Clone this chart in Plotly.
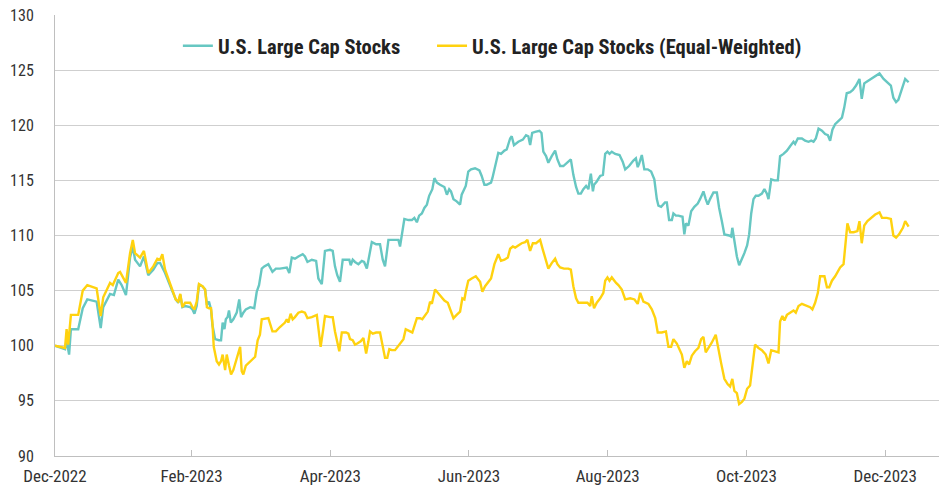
import pandas as pd
import plotly.graph_objects as go

# ---- data ----
start_date = "2022-12-30"

# days after start_date, index value (start = 100)
large_cap_days = [0.0, 4.4, 5.1, 6.2, 7.0, 10.2, 12.2, 14.2, 18.3, 20.1, 21.2, 24.2, 25.9, 27.8, 29.3, 31.2, 33.0, 34.2, 35.2, 37.4, 39.1, 41.0, 43.2, 45.0, 46.2, 48.4, 51.3, 53.1, 54.2, 55.1, 56.0, 57.2, 59.4, 60.4, 61.3, 62.3, 63.3, 64.8, 66.0, 66.8, 67.7, 68.6, 69.2, 70.4, 72.1, 73.0, 73.7, 74.5, 75.1, 75.9, 76.5, 77.3, 78.4, 79.9, 81.0, 81.8, 82.8, 83.9, 85.8, 87.6, 88.7, 89.7, 90.9, 92.0, 93.8, 95.6, 97.1, 98.9, 101.9, 103.0, 104.1, 105.5, 107.0, 108.9, 109.9, 111.0, 112.9, 114.8, 115.8, 117.3, 118.7, 120.9, 122.1, 123.1, 124.1, 125.3, 126.5, 128.3, 129.4, 130.0, 130.9, 131.9, 133.4, 134.9, 135.9, 137.1, 138.2, 139.3, 141.2, 142.9, 144.1, 145.1, 146.6, 148.1, 149.5, 151.0, 151.7, 152.7, 153.6, 155.4, 156.9, 158.0, 159.1, 160.1, 161.3, 162.4, 163.5, 164.5, 165.3, 165.9, 166.8, 167.9, 169.3, 171.2, 172.3, 173.3, 174.1, 175.2, 176.6, 178.1, 178.8, 179.6, 180.6, 181.7, 182.9, 184.7, 186.6, 187.6, 188.8, 189.8, 191.7, 192.3, 193.5, 194.9, 196.1, 197.6, 198.6, 200.1, 200.8, 201.8, 203.7, 205.7, 207.1, 208.1, 208.9, 209.8, 211.1, 213.0, 213.9, 214.7, 215.9, 216.9, 218.4, 219.9, 220.9, 222.1, 223.5, 224.7, 225.7, 226.8, 227.9, 229.1, 230.1, 231.2, 232.3, 233.5, 234.5, 235.6, 236.5, 237.0, 238.2, 239.7, 240.9, 241.9, 242.9, 243.8, 244.8, 246.3, 248.2, 249.6, 250.7, 252.4, 254.3, 255.4, 256.2, 256.8, 258.0, 259.1, 260.6, 262.1, 263.5, 264.6, 265.3, 266.5, 268.2, 269.0, 270.0, 271.2, 271.9, 273.0, 274.1, 275.9, 276.7, 277.4, 278.5, 279.7, 281.1, 282.6, 283.6, 285.1, 286.1, 287.0, 288.0, 289.5, 291.0, 292.0, 293.2, 294.3, 296.4, 297.3, 297.8, 298.7, 299.8, 300.8, 302.0, 303.1, 304.3, 305.2, 306.1, 307.1, 308.1, 309.3, 310.8, 311.9, 313.0, 313.7, 314.9, 316.3, 317.8, 318.8, 320.3, 321.8, 323.2, 324.7, 325.4, 326.6, 328.4, 329.8, 331.3, 332.5, 333.5, 334.5, 335.7, 337.2, 338.6, 339.8, 340.8, 341.8, 343.0, 344.5, 346.0, 347.0, 348.1, 349.6, 350.8, 352.2, 353.7, 354.7, 355.8, 357.2, 358.7, 360.6, 362.5, 364.3, 365.7, 367.5, 368.6, 369.8, 370.8, 372.3, 373.8, 375.3]
large_cap_values = [100.0, 99.7, 100.5, 99.2, 101.5, 101.5, 103.4, 104.2, 104.0, 101.6, 103.5, 104.7, 104.6, 106.0, 105.5, 104.6, 108.0, 109.0, 107.8, 107.2, 108.1, 106.4, 106.9, 107.5, 107.5, 106.6, 105.1, 104.2, 103.9, 104.6, 103.5, 103.6, 103.5, 103.3, 102.9, 103.6, 105.5, 105.4, 105.1, 103.7, 104.0, 103.3, 101.9, 100.6, 100.5, 100.5, 102.1, 101.5, 102.4, 102.6, 103.2, 102.1, 102.4, 103.0, 104.2, 102.6, 103.0, 103.3, 103.5, 103.4, 104.9, 105.5, 107.0, 107.2, 107.4, 106.7, 107.0, 107.0, 107.1, 106.6, 108.0, 107.9, 108.1, 108.3, 108.1, 107.6, 107.8, 107.7, 106.1, 105.6, 108.6, 108.7, 108.6, 107.2, 106.4, 105.8, 107.8, 107.8, 107.8, 107.3, 107.8, 107.6, 107.4, 107.7, 107.6, 107.0, 108.4, 109.4, 109.2, 109.2, 107.8, 107.2, 109.6, 109.6, 109.6, 109.6, 109.0, 110.2, 111.5, 111.4, 111.4, 111.6, 111.2, 111.8, 112.0, 112.5, 112.8, 113.6, 113.9, 114.2, 115.2, 114.8, 114.6, 114.4, 113.7, 114.2, 114.0, 113.3, 113.1, 112.8, 113.7, 114.1, 114.5, 115.8, 116.0, 116.1, 115.9, 115.4, 114.6, 114.6, 114.8, 115.2, 116.3, 117.5, 117.4, 117.7, 117.8, 118.8, 119.0, 118.2, 118.5, 118.7, 119.1, 119.0, 118.2, 119.3, 119.4, 119.5, 119.3, 117.6, 117.2, 116.6, 117.2, 117.7, 116.9, 116.3, 116.3, 116.5, 116.7, 116.9, 115.5, 114.4, 113.8, 113.8, 114.2, 114.5, 114.2, 115.6, 114.0, 114.6, 114.9, 115.4, 115.5, 117.4, 117.6, 117.4, 117.6, 117.4, 117.3, 116.7, 116.0, 116.3, 116.8, 117.0, 116.2, 116.5, 117.3, 116.0, 116.0, 115.8, 115.1, 113.3, 112.7, 112.6, 113.0, 113.0, 111.4, 111.4, 112.0, 111.8, 111.8, 111.7, 110.1, 111.1, 110.9, 112.2, 112.6, 112.9, 113.3, 114.0, 113.3, 112.8, 113.3, 113.9, 113.9, 112.5, 111.3, 110.1, 110.0, 109.9, 110.7, 109.5, 108.1, 107.3, 107.8, 108.4, 109.1, 110.1, 112.0, 113.3, 113.6, 113.6, 113.8, 114.2, 113.8, 113.3, 115.1, 115.0, 115.0, 117.2, 117.4, 117.7, 118.1, 118.5, 118.3, 118.8, 118.8, 118.6, 118.5, 118.6, 118.5, 118.8, 119.7, 119.5, 119.2, 119.1, 118.6, 119.6, 120.1, 120.4, 120.7, 121.6, 122.9, 123.0, 123.2, 123.6, 124.2, 122.4, 123.8, 124.0, 124.2, 124.5, 124.7, 124.2, 123.9, 123.6, 122.5, 122.1, 122.3, 123.2, 124.2, 123.9]

equal_weight_days = [0.0, 4.4, 5.1, 5.8, 7.0, 10.2, 12.2, 14.2, 18.3, 20.1, 21.2, 24.2, 25.4, 27.8, 28.6, 31.2, 33.0, 34.2, 35.2, 37.4, 39.1, 41.0, 43.2, 45.0, 46.2, 47.2, 48.4, 49.8, 51.3, 53.1, 54.2, 55.1, 56.0, 57.2, 59.4, 60.4, 61.3, 62.3, 63.3, 64.8, 66.0, 66.8, 67.7, 68.6, 69.2, 69.8, 71.1, 72.1, 73.0, 73.7, 74.8, 75.5, 76.5, 77.4, 78.4, 79.5, 80.6, 81.4, 82.1, 82.8, 83.9, 85.8, 88.0, 89.1, 90.1, 90.9, 93.8, 95.6, 97.1, 98.9, 101.1, 101.9, 102.6, 103.6, 104.5, 105.5, 107.0, 108.5, 109.9, 111.0, 112.9, 115.1, 115.8, 116.8, 118.0, 118.7, 120.9, 122.1, 123.1, 123.9, 125.0, 126.1, 128.0, 129.0, 129.7, 130.9, 131.9, 132.9, 134.4, 135.6, 136.8, 137.8, 138.5, 139.7, 141.2, 142.9, 144.1, 145.1, 146.1, 147.0, 148.1, 149.5, 153.2, 154.2, 156.1, 157.1, 159.1, 160.5, 161.5, 162.7, 163.9, 164.9, 165.7, 167.1, 168.6, 170.1, 171.2, 172.7, 173.7, 175.2, 176.6, 178.1, 179.1, 180.0, 180.6, 181.7, 183.2, 185.0, 186.9, 187.9, 189.1, 190.5, 191.7, 193.2, 194.9, 196.1, 197.6, 199.1, 200.1, 201.3, 202.3, 203.7, 205.2, 206.7, 207.7, 208.9, 210.1, 211.5, 213.3, 214.5, 215.5, 216.9, 218.4, 219.9, 220.9, 222.1, 223.8, 225.7, 226.8, 227.9, 229.1, 230.1, 232.3, 234.1, 235.3, 236.0, 237.0, 238.2, 239.7, 241.1, 241.9, 242.9, 243.8, 244.8, 246.7, 247.7, 249.2, 250.7, 252.9, 254.8, 256.2, 257.3, 258.7, 260.9, 262.4, 263.9, 265.0, 266.8, 268.6, 269.7, 270.9, 271.9, 273.4, 274.8, 275.6, 276.7, 277.8, 278.8, 280.0, 281.4, 282.9, 284.1, 285.1, 286.1, 287.3, 288.8, 290.5, 291.7, 292.9, 294.3, 295.8, 296.8, 297.8, 298.7, 299.8, 300.8, 302.0, 303.1, 304.3, 305.6, 306.6, 307.8, 309.3, 310.8, 312.5, 313.7, 314.9, 316.6, 318.1, 318.8, 319.8, 320.7, 321.8, 323.2, 324.7, 325.7, 326.9, 328.4, 329.5, 330.6, 332.0, 333.0, 334.2, 335.4, 336.4, 338.3, 339.4, 340.4, 341.6, 343.0, 345.2, 346.7, 347.4, 348.4, 349.6, 351.1, 352.8, 353.7, 354.7, 355.8, 357.2, 359.1, 360.6, 362.5, 363.6, 365.7, 367.5, 368.6, 369.8, 371.1, 372.8, 373.8, 375.3]
equal_weight_values = [100.0, 99.8, 101.5, 100.1, 102.8, 102.8, 105.0, 105.5, 105.2, 102.7, 104.4, 105.7, 105.5, 106.6, 106.7, 105.7, 108.4, 109.6, 108.4, 108.0, 108.6, 106.6, 107.2, 107.9, 107.8, 108.3, 106.9, 106.1, 105.2, 104.2, 104.0, 104.7, 103.5, 103.9, 103.9, 103.5, 103.3, 104.0, 105.6, 105.4, 105.1, 103.5, 103.4, 103.4, 102.1, 99.9, 98.6, 98.3, 98.6, 99.2, 97.8, 99.2, 98.2, 97.4, 97.8, 98.5, 99.2, 99.9, 97.7, 97.4, 98.2, 98.6, 99.0, 100.5, 101.0, 102.4, 102.5, 101.3, 101.3, 101.7, 102.1, 102.4, 102.1, 102.9, 102.4, 102.6, 103.0, 103.1, 103.0, 102.5, 102.6, 102.8, 101.5, 99.9, 101.6, 102.7, 102.6, 102.6, 101.3, 100.5, 99.5, 101.2, 101.2, 101.1, 100.6, 100.5, 100.1, 100.2, 100.4, 100.7, 99.3, 100.4, 101.3, 101.1, 101.2, 101.2, 100.1, 98.9, 98.9, 99.7, 99.6, 99.6, 100.6, 101.5, 101.3, 101.2, 102.5, 102.5, 102.4, 102.8, 103.1, 104.0, 103.8, 105.1, 104.7, 104.4, 104.1, 103.9, 103.4, 102.5, 102.8, 103.1, 104.3, 104.2, 104.9, 105.9, 106.1, 106.3, 105.8, 104.9, 105.4, 105.8, 106.1, 107.4, 108.3, 107.7, 107.8, 108.0, 108.8, 109.0, 108.9, 109.1, 109.3, 109.4, 109.6, 108.6, 109.3, 109.3, 109.6, 108.7, 108.0, 107.0, 107.5, 107.9, 107.4, 107.1, 107.0, 107.0, 106.9, 105.4, 104.3, 103.9, 103.9, 103.9, 103.6, 104.5, 103.4, 103.9, 104.3, 104.8, 105.9, 106.2, 105.9, 106.2, 105.7, 105.5, 105.1, 104.2, 104.3, 104.2, 103.8, 104.8, 104.0, 103.8, 103.3, 102.5, 101.2, 101.2, 101.3, 99.9, 99.9, 100.6, 100.2, 99.6, 99.2, 98.0, 98.6, 98.3, 99.1, 99.5, 99.8, 100.6, 100.8, 99.4, 99.8, 100.3, 101.0, 99.6, 98.4, 97.0, 96.5, 96.3, 97.0, 95.9, 95.7, 94.7, 94.9, 95.2, 96.1, 96.4, 98.1, 100.1, 99.8, 99.6, 99.2, 98.4, 99.6, 99.5, 99.4, 102.2, 102.7, 102.3, 102.8, 103.0, 103.2, 103.0, 103.6, 103.8, 103.7, 103.6, 103.5, 103.3, 103.9, 104.8, 106.3, 106.3, 105.3, 105.3, 105.9, 106.3, 107.1, 107.4, 109.0, 111.1, 110.3, 110.3, 110.4, 111.3, 109.3, 110.9, 111.3, 111.6, 111.9, 112.1, 111.6, 111.6, 111.5, 110.0, 109.8, 110.1, 110.7, 111.3, 110.8]

series_names = ["U.S. Large Cap Stocks", "U.S. Large Cap Stocks (Equal-Weighted)"]
series_colors = ["#67C7C2", "#FFD20F"]

tick_dates = ["2022-12-30", "2023-02-28", "2023-04-30", "2023-06-30", "2023-08-30", "2023-10-30", "2023-12-30"]
tick_labels = ["Dec-2022", "Feb-2023", "Apr-2023", "Jun-2023", "Aug-2023", "Oct-2023", "Dec-2023"]
y_ticks = [90, 95, 100, 105, 110, 115, 120, 125, 130]
x_range = ["2022-12-30", "2024-01-22 16:00"]

# ---- figure ----
base = pd.Timestamp(start_date)
def to_dates(days):
    return base + pd.to_timedelta(pd.Series(days), unit="D")

FONT = "Liberation Sans Narrow, Arial Narrow, Roboto Condensed, Liberation Sans, Arial, sans-serif"

fig = go.Figure()
for days, vals, name, color, leg in [
    (large_cap_days, large_cap_values, series_names[0], series_colors[0], "legend"),
    (equal_weight_days, equal_weight_values, series_names[1], series_colors[1], "legend2"),
]:
    fig.add_trace(go.Scatter(
        x=to_dates(days), y=vals, name=name, mode="lines",
        line=dict(color=color, width=2.4), legend=leg,
    ))

legend_style = dict(
    orientation="h", y=0.93, yanchor="middle", xanchor="left",
    font=dict(family=FONT, size=20.5, color="#222222", weight="bold"),
    bgcolor="rgba(0,0,0,0)", itemwidth=30,
)

fig.update_layout(
    width=939, height=491, autosize=False,
    margin=dict(l=55, r=0, t=15, b=35, autoexpand=False),
    paper_bgcolor="white", plot_bgcolor="white",
    font=dict(family=FONT, size=16, color="#333333"),
    showlegend=True,
    legend=dict(x=0.139, **legend_style),
    legend2=dict(x=0.4265, **legend_style),
)
fig.update_xaxes(
    type="date", range=x_range, automargin=False,
    tickvals=tick_dates, ticktext=tick_labels, tickfont=dict(size=17),
    showgrid=False, showline=True, linecolor="#bfbfbf", linewidth=1,
    ticks="inside", ticklen=6, tickcolor="#bfbfbf", tickwidth=1,
    ticklabelstandoff=5, zeroline=False,
)
fig.update_yaxes(
    range=[90, 130], tickvals=y_ticks, automargin=False, tickfont=dict(size=16),
    showgrid=True, gridcolor="#cfcfcf", gridwidth=1,
    showline=True, linecolor="#bfbfbf", linewidth=1,
    ticks="", ticklabelstandoff=17, zeroline=False,
)

# remove the default page margin so the figure sits at the window's top-left corner
fig.write_html(
    "out.html",
    config={"displayModeBar": False},
    post_script="document.body.style.margin='0';",
)
